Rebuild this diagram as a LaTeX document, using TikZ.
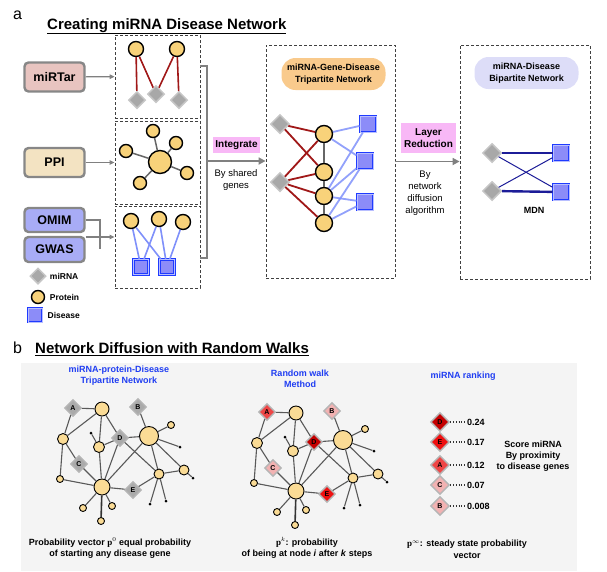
\documentclass[tikz,border=0pt]{standalone}
\usepackage{fontspec}
\setmainfont{Liberation Sans}
\newfontfamily\pfont{Liberation Serif}
\usepackage{tikz}
\usetikzlibrary{shapes,arrows,positioning,calc,arrows.meta}

\definecolor{srcgray}{HTML}{878787}
\definecolor{mirtarfill}{HTML}{E8C4C0}
\definecolor{ppifill}{HTML}{F3E3C2}
\definecolor{omimfill}{HTML}{A8ACF6}
\definecolor{protfill}{HTML}{F8D27A}
\definecolor{mgray}{HTML}{A8A8A8}
\definecolor{mgrayline}{HTML}{C6C6C6}
\definecolor{dblue}{HTML}{1F3BFF}
\definecolor{dfill}{HTML}{8C8CF8}
\definecolor{dlight}{HTML}{B8BEFF}
\definecolor{redline}{HTML}{A01818}
\definecolor{blueline}{HTML}{7F90FA}
\definecolor{navyline}{HTML}{1C1C98}
\definecolor{pinkfill}{HTML}{F8B8F6}
\definecolor{orangefill}{HTML}{F9CA8C}
\definecolor{lavfill}{HTML}{DDDDF8}
\definecolor{arrgray}{HTML}{808080}
\definecolor{bgfill}{HTML}{F4F4F4}
\definecolor{bprotfill}{HTML}{FADB95}
\definecolor{bluetext}{HTML}{1F3DF2}
\definecolor{bgray}{HTML}{AAAAAA}
\definecolor{redA}{HTML}{EE4646}
\definecolor{redB}{HTML}{F2B2B2}
\definecolor{redC}{HTML}{F2B2B2}
\definecolor{redD}{HTML}{C40000}
\definecolor{redE}{HTML}{EE1111}

\begin{document}
\begin{tikzpicture}[x=1pt, y=-1pt,
    srcbox/.style={draw=srcgray, line width=2.4pt, rounded corners=4pt, minimum width=60pt, minimum height=29pt, font=\fontsize{12.5}{14}\selectfont\bfseries},
    netbox/.style={draw=black!75, line width=0.8pt, dash pattern=on 3pt off 2pt, inner sep=0pt},
    prot/.style={circle, draw=black, line width=1.4pt, fill=protfill, inner sep=0pt, minimum size=#1},
    mirna/.style={diamond, draw=mgrayline, fill=mgray, line width=1.5pt, inner sep=0pt, minimum size=#1},
    disease/.style={rectangle, draw=dblue, double=dlight, double distance=0.7pt, line width=1pt, fill=dfill, inner sep=0pt, minimum size=#1},
    pinkbox/.style={fill=pinkfill, inner sep=0pt, align=center, font=\fontsize{10}{12}\selectfont\bfseries},
    pill/.style={rounded corners=14pt, inner sep=0pt, minimum width=104pt, minimum height=32pt, align=center, font=\fontsize{9}{12}\selectfont\bfseries},
    note/.style={align=center, inner sep=0pt, font=\fontsize{9.5}{12}\selectfont},
    legtext/.style={inner sep=0pt, font=\fontsize{8.5}{10}\selectfont\bfseries},
    arr/.style={draw=arrgray, line width=1.6pt, -{Triangle[length=7pt,width=7pt]}},
    srcarr/.style={draw=arrgray, line width=1.2pt, -{Triangle[length=5pt,width=4.5pt]}},
    link/.style={draw=arrgray, line width=1.2pt},
    bprot/.style={circle, draw=black, line width=0.9pt, fill=bprotfill, inner sep=0pt, minimum size=#1},
    bdot/.style={circle, fill=black, inner sep=0pt, minimum size=3pt},
    bmir/.style={diamond, draw=mgray!85, line width=1.4pt, fill=#1, inner sep=0pt, minimum size=17pt, font=\fontsize{7}{8}\selectfont\bfseries},
    bedge/.style={draw=black!65, line width=1.1pt},
    btitle/.style={text=bluetext, align=center, inner sep=0pt, font=\fontsize{9}{11}\selectfont\bfseries},
    captext/.style={align=center, inner sep=0pt, font=\fontsize{9}{11.5}\selectfont\bfseries}
  ]
  \useasboundingbox (0,0) rectangle (607,571);

  % Panel a title
  \node[anchor=base west, inner sep=0pt, font=\fontsize{16}{18}\selectfont] (la) at (13,19.5) {a};
  \node[anchor=base west, inner sep=0pt, font=\fontsize{15}{18}\selectfont\bfseries] (ta) at (47,29) {\underline{Creating miRNA Disease Network}};

  % Sources
  \node[srcbox, fill=mirtarfill] (mirtar) at (54.5,77) {miRTar};
  \node[srcbox, fill=ppifill] (ppi) at (54.5,162.5) {PPI};
  \node[srcbox, fill=omimfill, minimum height=24pt] (omim) at (54.5,220) {OMIM};
  \node[srcbox, fill=omimfill, minimum height=25pt] (gwas) at (54.5,249.5) {GWAS};

  % Source networks
  \node[netbox, minimum width=85pt, minimum height=83pt] (box1) at (157.5,76.5) {};
  \node[netbox, minimum width=85pt, minimum height=83pt] (box2) at (157.5,162.5) {};
  \node[netbox, minimum width=85pt, minimum height=82pt] (box3) at (157.5,247) {};

  \draw[srcarr] (mirtar) -- (box1);
  \draw[srcarr] (ppi) -- (box2);
  \coordinate (og) at (100,237);
  \coordinate (ogb) at (100,249);
  \draw[link] (omim.east) -| (ogb);
  \draw[srcarr] (og -| gwas.east) -- (og -| box3.west);

  % miRTar network
  \node[prot=15] (mp1) at (136,49) {};
  \node[prot=15] (mp2) at (177,49) {};
  \node[mirna=17] (mm1) at (137,100) {};
  \node[mirna=17] (mm2) at (156,94) {};
  \node[mirna=17] (mm3) at (179,100) {};
  \foreach \i/\j in {1/1,1/2,2/2,2/3}
    \draw[redline, line width=1.6pt] (mp\i) -- (mm\j);

  % PPI network
  \node[prot=23] (pc) at (160,162) {};
  \foreach \k/\x/\y in {1/153/131,2/176/143,3/126/151,4/187/173,5/140/183}{
    \node[prot=13] (ps\k) at (\x,\y) {};
    \draw[black!60, line width=1.5pt] (pc) -- (ps\k);
  }

  % OMIM / GWAS network
  \node[prot=15] (op1) at (131,221) {};
  \node[prot=15] (op2) at (159,219) {};
  \node[prot=15] (op3) at (183,222) {};
  \node[disease=15] (od1) at (141,267) {};
  \node[disease=15] (od2) at (167,267) {};
  \foreach \i/\j in {1/1,1/2,2/1,2/2,3/2}
    \draw[blueline, line width=1.6pt] (op\i) -- (od\j);

  % Legend
  \node[mirna=16] (lgm) at (38,276) {};
  \node[legtext, right=3pt of lgm] {miRNA};
  \node[prot=13] (lgp) at (38,297) {};
  \node[legtext, right=4.5pt of lgp] {Protein};
  \node[disease=14] (lgd) at (35,315) {};
  \node[legtext, right=5pt of lgd] {Disease};

  % Integrate
  \coordinate (bt) at (207,66);
  \coordinate (bb) at (207,258);
  \coordinate (brk) at (207,161);
  \draw[link] (bt -| box1.east) -- (bt) -- (bb) -- (bb -| box3.east);
  \node[netbox, minimum width=129pt, minimum height=233pt] (trip) at (330.5,161.5) {};
  \draw[arr] (brk) -- (brk -| trip.west);
  \node[pinkbox, minimum width=47pt, minimum height=16pt] (integ) at (236.5,145) {Integrate};
  \node[note] (shared) at (236,180) {By shared\\genes};

  % Tripartite network
  \node[pill, fill=orangefill] (triplab) at (333.5,74) {miRNA-Gene-Disease\\Tripartite Network};
  \node[mirna=19] (tm1) at (280,124) {};
  \node[mirna=19] (tm2) at (280,182) {};
  \node[prot=17] (tp1) at (324,134) {};
  \node[prot=17] (tp2) at (324,172) {};
  \node[prot=17] (tp3) at (324,196) {};
  \node[prot=17] (tp4) at (324,223) {};
  \node[disease=16] (td1) at (368,124) {};
  \node[disease=16] (td2) at (365,161) {};
  \node[disease=16] (td3) at (365,202) {};
  \foreach \i/\j in {1/2,2/3,3/4}
    \draw[black!60, line width=2pt] (tp\i) -- (tp\j);
  \foreach \i/\j in {1/1,1/2,2/1,2/2,2/3,2/4}
    \draw[redline, line width=1.8pt] (tm\i) -- (tp\j);
  \foreach \i/\j in {1/1,1/2,3/1,3/2,4/2,3/3,4/3}
    \draw[blueline, opacity=0.85, line width=1.8pt] (tp\i) -- (td\j);

  % Layer reduction
  \node[netbox, minimum width=130pt, minimum height=234pt] (mdn) at (525,162) {};
  \draw[arr] (trip.east) -- (trip.east -| mdn.west);
  \node[pinkbox, minimum width=55pt, minimum height=30pt] (layer) at (428.5,138) {Layer\\Reduction};
  \node[note] (diff) at (425,193.5) {By\\network\\diffusion\\algorithm};

  % MDN
  \node[pill, fill=lavfill] (mdnlab) at (526.5,73) {miRNA-Disease\\Bipartite Network};
  \node[mirna=19] (bm1) at (492,153) {};
  \node[mirna=19] (bm2) at (492,191) {};
  \node[disease=16] (bd1) at (561,153) {};
  \node[disease=16] (bd2) at (561,192) {};
  \draw[navyline, line width=2.4pt] (bm1) -- (bd1);
  \draw[navyline, line width=2.4pt] (bm2) -- (bd2);
  \draw[navyline, line width=1pt] (bm1) -- (bd2);
  \draw[navyline, line width=1pt] (bm2) -- (bd1);
  \node[inner sep=0pt, font=\fontsize{9}{10}\selectfont\bfseries] (mdnname) at (534,210) {MDN};

  % Panel b title
  \node[anchor=base west, inner sep=0pt, font=\fontsize{16}{18}\selectfont] (lb) at (13,353.5) {b};
  \node[anchor=base west, inner sep=0pt, font=\fontsize{15}{18}\selectfont\bfseries] (tb) at (35,353.5) {\underline{Network Diffusion with Random Walks}};
  \fill[bgfill] (21,363) rectangle (577,571);

  \node[btitle] (bt1) at (119,375.5) {miRNA-protein-Disease\\Tripartite Network};
  \node[btitle] (bt2) at (300,378.5) {Random walk\\Method};
  \node[btitle] (bt3) at (463,376) {miRNA ranking};

  % Tripartite network and random walk
  \foreach \n/\sx/\sy/\ca/\cb/\cc/\cd/\ce in {L/0/0/bgray/bgray/bgray/bgray/bgray, R/194/4/redA/redB/redC/redD/redE}{
    \begin{scope}[shift={(\sx,\sy)}]
      \node[bmir=\ca] (\n-A) at (73,408) {A};
      \node[bmir=\cb] (\n-B) at (138,407) {B};
      \node[bmir=\cc] (\n-C) at (79,464) {C};
      \node[bmir=\cd] (\n-D) at (120,438) {D};
      \node[bmir=\ce] (\n-E) at (133,490) {E};
      \node[bprot=14] (\n-t) at (102,409) {};
      \node[bprot=11] (\n-l) at (63,439) {};
      \node[bprot=11] (\n-m) at (99,447) {};
      \node[bprot=19] (\n-g) at (149,436) {};
      \node[bprot=7] (\n-s2) at (171,425) {};
      \node[bprot=7] (\n-q) at (60,479) {};
      \node[bprot=16] (\n-c) at (102,487) {};
      \node[bprot=10] (\n-r) at (159,474) {};
      \node[bprot=10] (\n-f) at (184,470) {};
      \node[bprot=7] (\n-s7) at (83,508) {};
      \node[bprot=7] (\n-s8) at (112,506) {};
      \node[bprot=7] (\n-s9) at (101,521) {};
      \node[bdot] (\n-s1) at (91,433) {};
      \node[bdot] (\n-s3) at (180,447) {};
      \node[bdot] (\n-s4) at (193,478) {};
      \node[bdot] (\n-s5) at (150,504) {};
      \node[bdot] (\n-s6) at (166,501) {};
      \foreach \a/\b in {A/t,A/l,t/l,t/m,t/D,D/m,s1/m,D/g,D/c,D/r,g/c,g/s2,g/s3,g/r,g/f,B/g,l/C,C/c,l/q,q/c,m/c,c/E,E/r,r/f,f/s4,r/s5,r/s6,c/s7,c/s8}
        \draw[bedge] (\n-\a) -- (\n-\b);
      \draw[bedge, draw=black!80, line width=1.6pt] (\n-c) -- (\n-s9);
    \end{scope}
  }

  % Ranking
  \foreach \k/\lab/\col/\y/\v in {1/D/redD/422/0.24, 2/E/redE/442/0.17, 3/A/redA/465/0.12, 4/C/redC/485/0.07, 5/B/redB/506/0.008}{
    \node[bmir=\col, minimum size=19pt] (rk\k) at (440,\y) {\lab};
    \node[anchor=west, inner sep=0pt, font=\fontsize{9}{10}\selectfont\bfseries] (v\k) at (467,\y) {\v};
    \draw[black!80, line width=1.1pt, dash pattern=on 1pt off 1.8pt] (rk\k) -- (v\k);
  }
  \node[captext, font=\fontsize{9}{11}\selectfont\bfseries] (score) at (533,456.5) {Score miRNA\\By proximity\\to disease genes};

  % Captions
  \node[captext] (cap1) at (110,548) {Probability vector {\pfont p}$^{0}$ equal probability\\of starting any disease gene};
  \node[captext] (cap2) at (307,548) {{\pfont p}$^{k}$: probability\\of being at node \textit{i} after \textit{k} steps};
  \node[captext] (cap3) at (467,549.5) {{\pfont p}$^{\infty}$: steady state probability\\vector};
\end{tikzpicture}
\end{document}
